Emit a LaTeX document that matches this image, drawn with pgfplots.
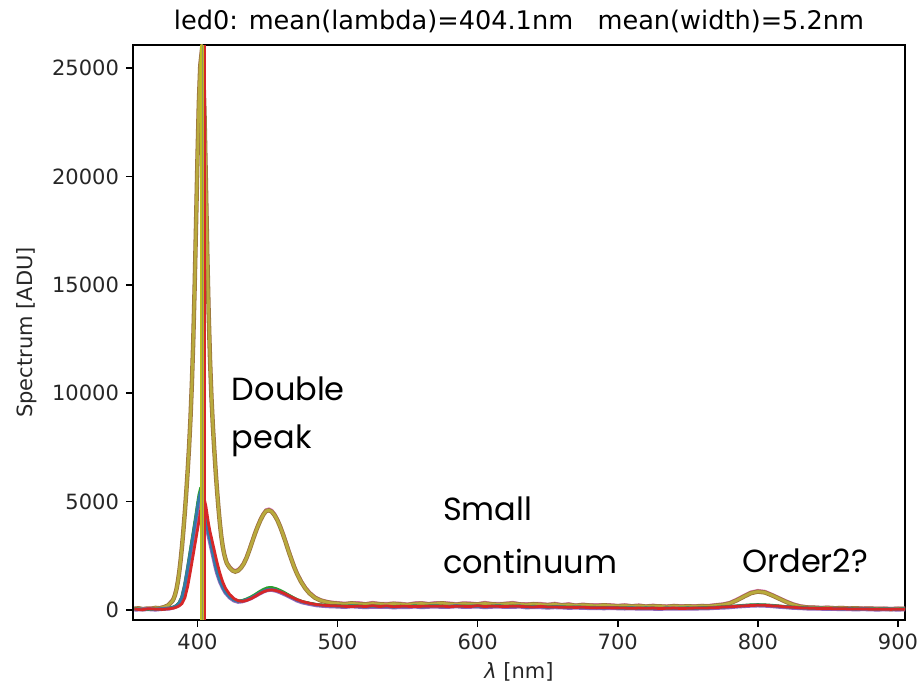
\documentclass[border=0pt]{standalone}
\usepackage{fontspec}
\setmainfont{DejaVu Sans}
\newfontfamily\annfont{Poppins}
\usepackage{pgfplots}
\pgfplotsset{compat=1.18}
\usepackage{pgfplotstable}

\definecolor{tblue}{RGB}{31,119,180}
\definecolor{tgreen}{RGB}{44,160,44}
\definecolor{tred}{RGB}{214,39,40}
\definecolor{tpurple}{RGB}{148,103,189}
\definecolor{tbrown}{RGB}{140,86,75}
\definecolor{tpink}{RGB}{227,119,194}
\definecolor{tgray}{RGB}{127,127,127}
\definecolor{tolive}{RGB}{188,189,34}
\definecolor{mixolive}{RGB}{185,170,60}

\pgfplotstableread{
x pk ol
355 90 60
358 60 80
361 70 40
364 40 70
367 90 60
370 70 100
373 110 80
376 140 130
379 230 210
381 390 340
382 450 400
383 570 520
384 750 700
385 1000 950
386 1350 1300
387 1800 1750
388 2350 2300
389 3000 2950
390 3750 3700
391 4550 4500
392 5450 5400
393 6450 6400
394 7550 7500
395 8850 8800
396 10450 10400
397 12450 12400
398 14950 14900
399 17850 17800
400 20850 20800
401 23450 23400
402 25150 25100
403 25800 25700
404 25150 25100
405 23050 23000
406 19850 19800
407 16550 16500
408 13750 13700
409 11550 11500
410 9850 9800
411 8550 8500
412 7450 7400
413 6450 6400
414 5550 5500
415 4750 4700
416 4050 4000
417 3450 3400
418 3000 2950
419 2650 2600
420 2400 2350
421 2200 2150
423 2000 1950
425 1870 1820
427 1820 1770
429 1870 1820
431 1990 1940
433 2180 2130
435 2450 2400
437 2800 2750
439 3180 3130
441 3560 3510
443 3900 3850
445 4200 4150
447 4450 4400
449 4620 4570
451 4660 4600
453 4600 4540
455 4440 4380
457 4200 4150
459 3900 3850
461 3560 3500
463 3180 3120
465 2780 2720
467 2400 2350
469 2040 1990
471 1730 1680
474 1350 1300
477 1050 1000
480 820 770
484 600 560
488 470 440
492 400 370
496 360 320
500 340 300
505 310 270
510 330 310
515 340 280
520 290 260
525 350 300
530 300 270
535 300 250
540 320 290
545 310 260
550 270 240
555 330 280
560 340 300
565 300 260
570 340 290
575 340 310
580 320 270
585 290 250
590 330 290
595 320 270
600 290 260
605 350 300
610 300 270
615 300 250
620 310 280
625 350 300
630 290 260
635 290 240
640 300 270
645 300 250
650 260 230
655 310 260
660 250 220
665 290 240
670 230 200
675 270 230
680 240 210
685 240 190
690 250 220
695 240 200
700 210 180
705 240 200
710 200 170
715 230 190
720 190 160
725 220 180
730 190 170
735 190 150
740 210 180
745 200 160
750 200 170
755 200 160
760 210 180
765 210 170
770 250 210
775 280 240
780 350 310
785 500 450
790 670 620
795 830 780
800 900 850
805 860 810
810 720 680
815 570 530
820 420 380
825 290 250
830 200 160
835 150 120
840 140 110
845 120 90
850 130 100
855 110 80
860 120 90
865 100 70
870 110 80
875 90 60
880 100 70
885 80 50
890 90 60
895 70 40
900 90 60
905 80 50
}\hightab

\pgfplotstableread{
x b g p r
355 40 60 20 50
360 20 40 30 10
365 50 30 40 60
370 30 50 20 40
375 60 40 50 30
380 80 90 70 60
383 130 140 120 90
385 200 210 180 130
387 320 340 300 190
389 600 630 570 300
391 1150 1200 1100 560
393 1900 1970 1840 1080
395 2700 2790 2620 1800
397 3500 3610 3400 2560
399 4300 4430 4180 3320
400 4750 4890 4620 3700
401 5150 5300 5000 4080
402 5400 5560 5250 4500
403 5350 5500 5200 4880
404 5050 5190 4920 5120
405 4600 4720 4480 5080
406 4150 4260 4040 4800
407 3800 3900 3700 4370
408 3500 3590 3410 3940
409 3200 3290 3120 3610
410 2900 2980 2830 3330
411 2600 2670 2540 3040
412 2300 2370 2250 2760
413 2000 2060 1960 2470
414 1750 1800 1710 2190
416 1350 1390 1320 1700
418 1050 1080 1030 1300
420 820 850 800 1000
423 600 620 580 720
426 460 480 440 530
429 400 420 380 430
432 420 440 400 400
435 480 510 460 440
438 560 600 540 520
441 660 710 640 620
444 780 840 750 740
447 880 950 850 840
450 950 1030 920 910
453 960 1040 930 930
456 920 990 890 900
459 850 910 820 840
462 760 810 730 760
465 660 700 640 660
468 560 590 540 570
471 460 490 440 480
475 370 390 350 390
480 300 320 280 310
485 240 260 220 250
490 210 230 190 220
495 190 210 170 200
500 180 200 160 190
505 150 180 140 170
510 190 200 170 160
515 160 190 150 180
520 140 170 130 160
525 180 190 150 200
530 150 180 140 160
535 170 160 150 190
540 130 160 120 150
545 160 180 140 170
550 150 160 130 170
555 180 200 160 160
560 140 170 130 170
565 170 190 150 180
570 190 200 160 170
575 150 180 140 180
580 160 170 150 150
585 200 190 170 180
590 150 180 140 170
595 170 190 150 160
600 180 190 160 200
605 140 170 130 160
610 170 180 150 180
615 190 200 160 170
620 150 170 140 160
625 160 190 140 180
630 180 180 160 170
635 130 160 120 150
640 150 170 140 140
645 160 160 130 170
650 120 150 110 140
655 150 160 130 140
660 140 150 120 130
665 110 140 100 130
670 130 140 110 120
675 120 130 100 130
680 100 130 90 110
685 110 120 90 100
690 90 110 80 110
695 120 120 90 100
700 90 110 80 100
705 80 100 70 90
710 100 100 80 80
715 70 90 60 90
720 90 100 70 80
725 80 90 60 90
730 60 80 50 70
735 90 90 70 80
740 70 80 60 90
745 80 90 60 70
750 90 100 70 80
755 70 90 60 90
760 100 110 80 90
765 90 110 80 100
770 120 130 100 110
775 130 150 110 140
780 150 170 130 150
785 180 190 160 170
790 200 220 180 190
795 220 240 200 210
800 230 250 210 220
805 220 240 200 220
810 200 220 180 190
815 170 190 150 180
820 150 160 130 140
825 120 140 100 130
830 100 120 90 100
835 90 100 70 90
840 70 90 60 80
845 80 90 60 70
850 60 80 50 70
855 70 80 50 60
860 50 70 40 60
865 60 70 40 50
870 40 60 30 50
875 60 60 40 50
880 50 60 30 40
885 30 50 20 40
890 50 60 30 40
895 40 50 30 30
900 30 50 20 40
905 50 60 30 40
}\lowtab

\begin{document}
\begin{tikzpicture}
\begin{axis}[
  width=386pt, height=287.5pt, scale only axis,
  xmin=354, xmax=905, ymin=-460, ymax=26060,
  xtick={400,500,600,700,800,900},
  ytick={0,5000,10000,15000,20000,25000},
  scaled y ticks=false,
  /pgf/number format/1000 sep={},
  /pgf/number format/assume math mode=true,
  tick align=outside, xtick pos=bottom, ytick pos=left,
  major tick length=3.5pt,
  every tick/.style={black, line width=0.8pt},
  axis line style={black, line width=0.8pt},
  tick label style={font=\fontsize{10.5}{12}\selectfont, text=black!85},
  title={led0: mean(lambda)=404.1nm\ \ \ mean(width)=5.2nm},
  every axis title/.style={at={(rel axis cs:0.5,1)}, anchor=base, yshift=7.5pt, font=\fontsize{12.8}{15}\selectfont, inner sep=0pt},
  xlabel={\textit{λ} [nm]},
  xlabel style={at={(rel axis cs:0.5,0)}, anchor=base, yshift=-29pt, font=\fontsize{10.5}{12}\selectfont, inner sep=0pt, text=black!85},
  ylabel={Spectrum [ADU]},
  ylabel style={at={(rel axis cs:-0.1308,0.5)}, anchor=base, font=\fontsize{10.5}{12}\selectfont, inner sep=0pt, text=black!85},
  clip=true,
]
% high group
\addplot[tpink, line width=1.6pt, no marks] table[x=x, y=pk] {\hightab};
\addplot[tbrown!70!tolive, line width=2.2pt, no marks] table[x=x, y=ol] {\hightab};
\addplot[mixolive, line width=1.4pt, no marks] table[x=x, y=ol] {\hightab};
% low group
\addplot[tpurple, line width=2.0pt, no marks] table[x=x, y=p] {\lowtab};
\addplot[tgreen, line width=1.4pt, no marks] table[x=x, y=g] {\lowtab};
\addplot[tblue!80!tgray, line width=1.4pt, no marks] table[x=x, y=b] {\lowtab};
\addplot[tred, line width=1.4pt, no marks] table[x=x, y=r] {\lowtab};
% vertical lines (mean lambda of each series)
\addplot[tolive, line width=1.6pt, no marks] coordinates {(402.9,-460) (402.9,26060)};
\addplot[tolive, line width=1.6pt, no marks] coordinates {(404.1,-460) (404.1,26060)};
\addplot[tgray!70!tolive, line width=0.5pt, no marks] coordinates {(403.5,-460) (403.5,26060)};
\addplot[tred, line width=1.0pt, no marks] coordinates {(405.7,-460) (405.7,26060)};
% annotations
\node[anchor=base west, inner sep=0pt, font=\annfont\fontsize{16}{19}\selectfont] at (axis cs:424.3,9686) {Double};
\node[anchor=base west, inner sep=0pt, font=\annfont\fontsize{16}{19}\selectfont] at (axis cs:424.3,7472) {peak};
\node[anchor=base west, inner sep=0pt, font=\annfont\fontsize{16}{19}\selectfont] at (axis cs:575,4151) {Small};
\node[anchor=base west, inner sep=0pt, font=\annfont\fontsize{16}{19}\selectfont] at (axis cs:575,1707) {continuum};
\node[anchor=base west, inner sep=0pt, font=\annfont\fontsize{16}{19}\selectfont] at (axis cs:788.6,1753) {Order2?};
\end{axis}
\pgfresetboundingbox
\path[use as bounding box] ([shift={(-66.5pt,-35.5pt)}]current axis.south west) rectangle ([shift={(7.5pt,22.5pt)}]current axis.north east);
\end{tikzpicture}
\end{document}
